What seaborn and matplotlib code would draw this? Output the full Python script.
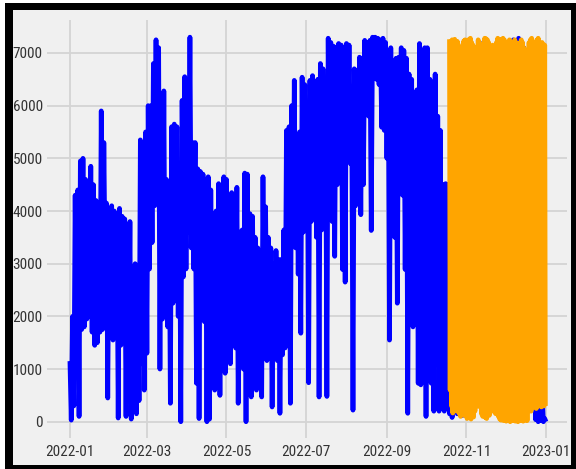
import numpy as np
import pandas as pd
import matplotlib
matplotlib.use("Agg")
import matplotlib.pyplot as plt
import matplotlib.dates as mdates
from matplotlib.patches import Rectangle
import seaborn as sns

# Observed output: peak and trough of each two-day block, starting 2022-01-01
actual_start = "2022-01-01"
actual_high = [
    1150, 2000, 4300, 4400, 4950, 5000, 4600, 4200, 4850, 4500,
    4200, 4000, 5900, 5300, 4150, 4050, 4100, 4000, 3950, 4050,
    3900, 3850, 3700, 3800, 2900, 3000, 2800, 5350, 4800, 5500,
    6000, 6000, 6800, 7250, 7100, 6000, 6280, 4600, 4500, 5600,
    5650, 5600, 4800, 6100, 6550, 6500, 7300, 5300, 5300, 4800,
    4750, 4700, 4600, 4650, 4400, 3950, 4000, 4520, 4400, 4650,
    4600, 4250, 4350, 3500, 4450, 3600, 3640, 4720, 4700, 3950,
    3900, 3500, 3300, 2630, 4650, 4080, 3500, 3300, 3000, 3250,
    3080, 3080, 3640, 5530, 5600, 6000, 6480, 5340, 5500, 6540,
    6400, 6000, 6480, 6570, 6400, 6500, 6800, 6700, 6300, 7280,
    7200, 7130, 7100, 7180, 7150, 7000, 7180, 7150, 6160, 6700,
    6670, 6920, 6900, 7240, 7200, 7240, 7300, 7300, 7280, 7250,
    7280, 7200, 7000, 7100, 6800, 6900, 6920, 7100, 7050, 6900,
    6600, 6500, 6000, 6300, 7180, 6800, 7100, 7100, 6500, 6250,
    6600, 5800, 5530, 4500, 4520, 4500, 6800, 7000, 6600, 7100,
    6900, 7200, 6700, 7000, 6500, 7100, 6900, 7200, 6800, 7000,
    6600, 7100, 7000, 6900, 7200, 6800, 7100, 7000, 6700, 7150,
    7250, 6900, 7280, 6800, 7100, 6900, 7000, 6600, 6800, 300,
    200, 540, 60,
]
actual_low = [
    30, 300, 1300, 100, 1750, 1800, 1950, 2000, 1700, 1450,
    1500, 1700, 1750, 2900, 450, 1800, 1550, 1600, 70, 1450,
    1500, 100, 1200, 50, 200, 150, 400, 1100, 600, 1300,
    2900, 3400, 4100, 4200, 1000, 1950, 2000, 1800, 350, 2250,
    2300, 2000, 0, 2750, 2900, 3600, 3300, 2900, 730, 60,
    2000, 1900, 0, 50, 1500, 600, 1600, 500, 1500, 920,
    1700, 1100, 1600, 1400, 350, 1200, 1000, 0, 1500, 470,
    1400, 600, 1300, 470, 1550, 1160, 1300, 280, 1200, 1160,
    160, 1270, 1400, 2620, 350, 3360, 3300, 2800, 1680, 3600,
    4000, 740, 3800, 4000, 3500, 470, 3640, 4200, 480, 4300,
    3800, 3140, 4500, 4800, 2890, 2650, 5000, 4900, 220, 4100,
    4200, 3930, 4500, 6040, 5800, 3630, 6600, 6500, 6400, 5590,
    5530, 5000, 1550, 4500, 3500, 2250, 4770, 4300, 2890, 160,
    2500, 1800, 2600, 730, 700, 2000, 100, 1500, 730, 200,
    1100, 200, 400, 200, 300, 150, 80, 300, 150, 350,
    120, 400, 250, 300, 350, 300, 400, 350, 300, 250,
    350, 300, 400, 250, 350, 300, 250, 350, 300, 400,
    300, 350, 250, 300, 350, 300, 250, 300, 40, 0,
    20, 0, 0,
]

# Forecast: daily peak and trough, starting 2022-10-19
forecast_start = "2022-10-19"
forecast_high = [
    7260, 7200, 7250, 7230, 7260, 7200, 7220, 7150, 7000, 6800,
    7100, 7230, 7250, 7200, 7100, 7260, 7280, 7200, 7150, 6790,
    7000, 7100, 7250, 7200, 6900, 7100, 7050, 7280, 7270, 7250,
    7200, 7100, 7000, 7150, 6850, 6950, 7200, 7280, 7250, 7260,
    7220, 7280, 7250, 7150, 7200, 7100, 7250, 7150, 7200, 7100,
    7250, 7200, 7150, 7180, 7100, 7250, 7200, 7100, 6700, 6600,
    7000, 7200, 7250, 7280, 7200, 7150, 7100, 7250, 7280, 7200,
    7150, 7200, 7100, 7150,
]
forecast_low = [
    600, 300, 165, 250, 400, 200, 350, 150, 100, 250,
    300, 120, 180, 60, 100, 220, 50, 150, 90, 200,
    540, 350, 290, 400, 150, 100, 200, 80, 60, 150,
    120, 200, 300, 250, 180, 150, 220, 100, 50, 30,
    60, 20, 40, 10, 50, 30, 0, 40, 20, 60,
    10, 30, 0, 50, 20, 40, 10, 60, 30, 20,
    250, 300, 200, 350, 280, 320, 250, 300, 350, 300,
    280, 320, 300, 300,
]

y_ticks = [0, 1000, 2000, 3000, 4000, 5000, 6000, 7000]
tick_months = [1, 3, 5, 7, 9, 11]


def interleave(a, b):
    out = np.empty(len(a) + len(b))
    out[0::2] = a
    out[1::2] = b
    return out


actual = pd.DataFrame({
    "time": pd.date_range(actual_start, periods=2 * len(actual_high), freq="D"),
    "value": interleave(actual_high, actual_low),
})
forecast = pd.DataFrame({
    "time": pd.date_range(forecast_start, periods=2 * len(forecast_high), freq="12h"),
    "value": interleave(forecast_high, forecast_low),
})

plt.style.use("fivethirtyeight")
plt.rcParams["font.family"] = ["Roboto Condensed", "DejaVu Sans"]
plt.rcParams["font.stretch"] = "condensed"

fig = plt.figure(figsize=(5.76, 4.69), dpi=100, facecolor="white")
W, H = 576, 469
# black frame around the figure
fig.patches.append(Rectangle((5 / W, 0), 571 / W, 466 / H, transform=fig.transFigure,
                             facecolor="black", edgecolor="none", zorder=-2))
fig.patches.append(Rectangle((13 / W, 4 / H), 558 / W, 455 / H, transform=fig.transFigure,
                             facecolor="#f0f0f0", edgecolor="none", zorder=-1))

ax = fig.add_axes([47 / W, 1 - 438 / H, 520 / W, 418 / H])
ax.set_facecolor("#f0f0f0")

sns.lineplot(data=actual, x="time", y="value", color="blue", linewidth=3.4,
             estimator=None, sort=False, ax=ax)
sns.lineplot(data=forecast, x="time", y="value", color="orange", linewidth=3.4,
             estimator=None, sort=False, ax=ax)

ax.set_xlim(pd.Timestamp("2021-12-14 10:00"), pd.Timestamp("2023-01-17 02:00"))
ax.set_ylim(-309, 7626)
ax.set_yticks(y_ticks)
ax.xaxis.set_major_locator(mdates.MonthLocator(bymonth=tick_months))
ax.xaxis.set_major_formatter(mdates.DateFormatter("%Y-%m"))
ax.set_xlabel("")
ax.set_ylabel("")
ax.grid(True, color="#d4d4d4", linewidth=1.3)
ax.set_axisbelow(True)
for s in ax.spines.values():
    s.set_visible(False)
ax.tick_params(axis="both", length=0, labelsize=11, colors="#333333")
ax.tick_params(axis="x", pad=5)
ax.tick_params(axis="y", pad=3)

fig.savefig("out.png", dpi=100, facecolor=fig.get_facecolor())
